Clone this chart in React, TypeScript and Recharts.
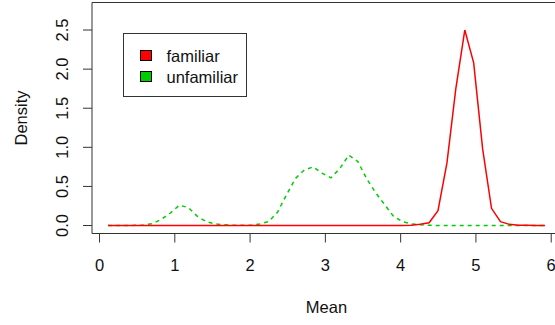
import React from 'react';
import { LineChart, Line, XAxis, YAxis, Legend, Label } from 'recharts';

// density evaluation grid (Mean)
const meanGrid = [
  0.113, 0.231, 0.35, 0.468, 0.586, 0.705, 0.823, 0.942, 1.06, 1.179,
  1.297, 1.416, 1.534, 1.653, 1.771, 1.89, 2.008, 2.127, 2.245, 2.364,
  2.482, 2.601, 2.719, 2.838, 2.956, 3.074, 3.193, 3.311, 3.43, 3.548,
  3.667, 3.785, 3.904, 4.022, 4.141, 4.259, 4.378, 4.496, 4.615, 4.733,
  4.852, 4.97, 5.089, 5.207, 5.326, 5.444, 5.563, 5.681, 5.8, 5.918,
];

const familiarDensity = [
  0, 0, 0, 0, 0, 0, 0, 0, 0, 0,
  0, 0, 0, 0, 0, 0, 0, 0, 0, 0,
  0, 0, 0, 0, 0, 0, 0, 0, 0, 0,
  0, 0, 0, 0, 0.005, 0.015, 0.035, 0.19, 0.8, 1.75,
  2.5, 2.08, 0.98, 0.22, 0.05, 0.015, 0.005, 0.002, 0.001, 0,
];

const unfamiliarDensity = [
  0, 0, 0, 0.002, 0.006, 0.025, 0.08, 0.16, 0.26, 0.23,
  0.12, 0.05, 0.02, 0.01, 0.004, 0.002, 0.005, 0.02, 0.05, 0.17,
  0.39, 0.6, 0.71, 0.75, 0.67, 0.61, 0.73, 0.9, 0.82, 0.6,
  0.42, 0.27, 0.12, 0.05, 0.02, 0.01, 0.004, 0, 0, 0,
  0, 0, 0, 0, 0, 0, 0, 0, 0, 0,
];

const xTicks = [0, 1, 2, 3, 4, 5, 6];
const yTicks = [0, 0.5, 1, 1.5, 2, 2.5];

const groups = [
  { key: 'familiar', color: '#FF0000', dash: undefined as string | undefined },
  { key: 'unfamiliar', color: '#00CD00', dash: '4 4' },
];

const data = meanGrid.map((m, i) => ({
  mean: m,
  familiar: familiarDensity[i],
  unfamiliar: unfamiliarDensity[i],
}));

const FONT = '"Liberation Sans", Arial, sans-serif';
const FS = 16.5;
const INK = '#111';
const AXIS = '#333';

const YTick = ({ x, y, payload }: any) => (
  <text x={x} y={y} transform={`rotate(-90, ${x}, ${y})`} textAnchor="middle" fill={INK} fontSize={FS}>
    {Number(payload.value).toFixed(1)}
  </text>
);

const XTitle = ({ viewBox }: any) => (
  <text x={viewBox.x + viewBox.width / 2} y={viewBox.y + viewBox.height + 78.5} textAnchor="middle" fill={INK} fontSize={FS}>
    Mean
  </text>
);

const YTitle = ({ viewBox }: any) => {
  const cx = viewBox.x - 64;
  const cy = viewBox.y + viewBox.height / 2;
  return (
    <text x={cx} y={cy} transform={`rotate(-90, ${cx}, ${cy})`} textAnchor="middle" fill={INK} fontSize={FS}>
      Density
    </text>
  );
};

const LegendBox = () => (
  <div style={{ position: 'relative', width: 122, height: 62, border: `1px solid ${AXIS}`, background: '#fff', fontFamily: FONT, fontSize: FS, color: INK }}>
    {groups.map((g, i) => (
      <React.Fragment key={g.key}>
        <div style={{ position: 'absolute', left: 16, top: 15.5 + i * 21, width: 10, height: 9, background: g.color, border: '1px solid #000' }} />
        <div style={{ position: 'absolute', left: 43, top: 13.5 + i * 21.5, lineHeight: `${FS}px`, whiteSpace: 'nowrap' }}>{g.key}</div>
      </React.Fragment>
    ))}
  </div>
);

export default function App() {
  return (
    <div style={{ position: 'absolute', left: 0, top: 0, width: 555, height: 325, overflow: 'hidden', background: '#fff', fontFamily: FONT }}>
      <LineChart width={575} height={325} data={data} margin={{ top: 1.5, right: 14, bottom: 90.5, left: 91 }}>
        <XAxis
          dataKey="mean" type="number" domain={[-0.1, 6.13]} allowDataOverflow
          ticks={xTicks} interval={0} height={1}
          tick={{ fill: INK, fontSize: FS }} tickSize={9} tickMargin={17}
          stroke={AXIS}
        >
          <Label content={<XTitle />} />
        </XAxis>
        <XAxis xAxisId="top" orientation="top" dataKey="mean" type="number" domain={[-0.1, 6.13]}
          allowDataOverflow height={1} tick={false} tickLine={false} stroke={AXIS} />
        <YAxis
          type="number" domain={[-0.102, 2.852]} allowDataOverflow
          ticks={yTicks} interval={0} width={1}
          tick={<YTick />} tickSize={9} tickMargin={15}
          stroke={AXIS}
        >
          <Label content={<YTitle />} />
        </YAxis>
        <Legend layout="vertical" align="center" verticalAlign="middle" content={<LegendBox />}
          wrapperStyle={{ position: 'absolute', left: 122.5, top: 33, width: 124, height: 64 }} />
        {/* green drawn first so the solid red baseline stays on top */}
        {[...groups].reverse().map(g => (
          <Line key={g.key} type="linear" dataKey={g.key} name={g.key} stroke={g.color}
            strokeWidth={1.5} strokeDasharray={g.dash} dot={false} activeDot={false}
            isAnimationActive={false} />
        ))}
      </LineChart>
    </div>
  );
}
